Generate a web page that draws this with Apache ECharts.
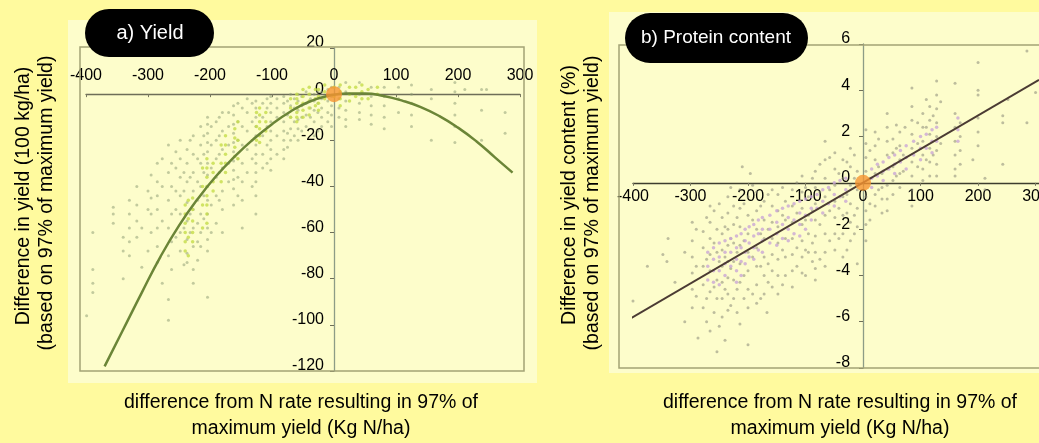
<!DOCTYPE html>
<html><head><meta charset="utf-8">
<script src="https://cdn.jsdelivr.net/npm/echarts@6/dist/echarts.min.js"></script>
<style>html,body{margin:0;padding:0;background:#FFFA9E;}#c{width:1039px;height:443px;}</style>
</head><body><div id="c"></div>
<script>
// ---------- Panel a) Yield ----------
const xTicksA = [-400, -300, -200, -100, 0, 100, 200, 300];
const yTicksA = [-120, -100, -80, -60, -40, -20, 0, 20];
// fitted response curve (x = kg N/ha difference, y = yield difference, 100 kg/ha)
const curveA = [[-370,-118],[-340,-102],[-310,-86],[-280,-70.5],[-250,-57],[-220,-45.5],[-190,-35.5],[-160,-27],[-130,-19.5],[-100,-13],[-70,-7.5],[-40,-3.3],[-10,-0.8],[20,0.3],[50,0.3],[80,-0.8],[110,-2.8],[140,-5.6],[170,-9.5],[200,-14.5],[230,-20.5],[260,-27.5],[288,-34]];
// observed points, grouped by N-rate column: [x, y1, y2, ...]
const obsColsA = [
 [-399,-96],[-389,-60,-76,-82,-86],[-356,-49,-52,-56],[-340,-62,-68,-80],[-330,-46,-52,-58,-64,-70],
 [-318,-40,-48,-55,-62],[-310,-58,-75],[-300,-42,-50,-68],[-295,-35,-45,-52,-60],[-285,-30,-38,-44,-50,-58,-66,-73],
 [-277,-28,-40,-55,-82],[-267,-22,-34,-46,-58,-70,-89,-98],[-262,-30,-40,-52,-64,-76],[-255,-25,-32,-42,-50,-62],
 [-248,-20,-28,-36,-44,-52,-60,-68],[-242,-34,-42,-58,-74],[-237,-24,-30,-38,-47,-55,-63,-69,-73],
 [-232,-20,-36,-52,-60],[-227,-18,-26,-34,-42,-50,-58,-66,-76,-82],[-220,-28,-38,-46,-56,-64,-72],
 [-215,-14,-22,-30,-40,-52,-60,-66],[-210,-18,-26,-34,-44,-54],
 [-204,-10,-13,-17,-21,-25,-30,-35,-40,-46,-52,-58,-63,-68,-88],[-198,-14,-22,-32,-48,-60],
 [-190,-12,-20,-28,-36,-44,-56],[-185,-10,-18,-26,-34,-46],[-180,-8,-16,-24,-32,-42,-50,-60],
 [-170,-8,-14,-22,-30,-38],[-162,-5,-9,-13,-17,-21,-25,-29,-33,-37,-41,-48],[-155,-4,-12,-20,-28,-36,-44],
 [-148,-6,-14,-22,-30,-38,-46,-58],[-140,-2,-8,-16,-24,-34],[-132,-4,-12,-20,-28,-40],
 [-126,-3,-6,-10,-14,-18,-22,-26,-30,-34,-38,-44,-52],[-115,-4,-10,-18,-26,-32],[-108,-2,-6,-14,-22,-30],
 [-102,-1,-4,-8,-12,-16,-20,-24,-28,-33],[-92,-2,-6,-10,-18,-26],[-81,-1,-4,-8,-12,-16,-20,-24,-28],
 [-75,-3,-9,-17,-23],[-70,0,-5,-10,-15,-20],[-64,-2,-6,-12,-18],[-58,0,-3,-7,-11,-15,-20],[-52,-1,-5,-10,-16],
 [-45,1,-4,-9,-14],[-38,0,-2,-6,-10],[-32,0,-3,-7,-12,-18],[-26,1,-4,-8,-16],
 [-20,1,-2,-6,-10,-14],[-10,2,-3,-8,-12],[-4,3,-1,-5,-9,-14],[8,3,-2,-6,-10],[19,5,1,-3,-7,-11,-14],[41,5,0,-4,-8,-11],
 [60,3,-1,-5,-9,-13],[81,3,-1,-5,-10,-15],[104,3,-2,-8],[125,4,0,-4,-9,-14],[157,2,-2,-20],
 [195,5,1,-4,-9,-14,-21],[211,2],[238,2,-7,-20],[246,2],[276,-8,-17]
];
const brightColsA = [
 [-240,-48,-52,-56,-60,-64,-68],[-235,-46,-54,-62,-70],[-228,-45,-50,-55,-60,-64],[-212,-32,-40,-48,-58],
 [-205,-28,-32,-36,-40,-44,-48,-52,-56],[-195,-30,-34,-38,-42],[-182,-22,-30,-38],[-175,-18,-22,-26,-30,-34],
 [-160,-15,-19,-23,-27],[-155,-12,-20,-28],[-125,-8,-14,-20],[-120,-6,-9,-12,-15,-18,-21],
 [-110,-8,-12,-16],[-70,-2,-6,-10],[-60,0,-2,-4,-6,-8,-10,-12],[-50,2,-1,-4,-7,-10],[-40,3,0,-3,-6,-9],
 [-30,2,-2,-5],[-25,2,-1,-4,-7],[-15,4,1,-2],[0,3,-1],[10,4,1,-2,-5],[25,3,0,-3],[35,3,-1],[45,4,1,-2],[55,2,-2],[70,3,0]
];

// ---------- Panel b) Protein content ----------
const xTicksB = [-400, -300, -200, -100, 0, 100, 200, 300];
const yTicksB = [-8, -6, -4, -2, 0, 2, 4, 6];
const lineB = [[-414,-6.0],[306,4.45]];
const obsColsB = [
 [-414,-4.6],[-400,-5.1],[-375,-3.6],[-348,-3.1],[-341,-3.4],[-339,-2.4],[-327,-4.3],[-310,-3.0,-6.0],
 [-297,-1.7,-2.5,-3.2,-3.9,-4.6,-5.4],[-290,-2.0,-3.6,-4.9],[-287,-6.7],[-278,-2.1,-2.8,-3.6,-4.4,-5.4],
 [-272,-1.5,-3.3,-5.0,-6.0],[-266,-1.0,-1.7,-2.4,-3.1,-3.8,-4.7,-6.4],[-259,-1.2,-2.6,-4.5,-5.6],
 [-254,-2.0,-3.0,-4.2,-5.0,-7.3],[-250,-0.9,-3.4,-6.2],
 [-245,-1.5,-2.2,-2.9,-3.6,-4.3,-5.0,-5.8],[-240,-1.9,-3.2,-4.6,-6.8],[-235,-0.6,-1.3,-2.0,-2.7,-3.4,-4.1,-4.8,-5.5],
 [-230,-0.2,-2.4,-3.7,-5.3],[-225,-1.0,-1.8,-2.6,-3.4,-4.2,-5.0],[-219,-1.5,-3.0,-4.6,-5.6],
 [-214,-0.3,-1.1,-1.9,-2.7,-3.5,-4.3,-6.1],[-210,0.7],[-207,-0.9,-2.5,-4.0,-5.0],
 [-200,-0.6,-1.4,-2.2,-3.0,-3.8,-4.6,-5.4,-7.0],[-196,0.4],[-192,-0.1,-1.6,-3.2,-4.8],
 [-185,-0.4,-1.2,-2.0,-2.8,-3.6,-4.4,-5.2],[-178,-1.0,-2.2,-3.6,-5.0],
 [-172,-0.8,-1.6,-2.4,-3.2,-4.0,-4.8],[-167,-5.6],[-165,-0.5,-2.0,-3.5,-4.3],[-158,-0.3,-1.0,-1.7,-2.4,-3.1,-3.8,-4.5],
 [-148,-0.5,-1.2,-1.9,-2.6,-3.3,-4.0,-4.8],[-140,-0.2,-1.4,-2.9,-4.4],[-135,-0.8,-1.6,-2.4,-3.2,-4.0],
 [-123,-0.3,-1.0,-1.7,-2.4,-3.1,-3.8,-4.5],[-115,0.0,-1.3,-2.8,-3.6],[-106,0.3,-0.4,-1.1,-1.8,-2.5,-3.2,-3.9],
 [-100,-0.2,-1.6,-2.9,-4.0],[-95,-0.6,-1.4,-2.2,-3.0],[-88,0.2,-1.2,-2.6,-3.4],[-83,0.5,-0.2,-0.9,-1.6,-2.3,-3.0,-3.7,-4.2],
 [-75,0.8,-0.4,-1.8,-3.3],[-66,1.8,1.0,0.2,-0.6,-1.4,-2.2,-3.0,-3.6],[-58,1.1,-0.3,-1.2,-2.5],
 [-49,1.3,0.6,-0.1,-0.8,-1.5,-2.2,-2.9],[-42,0.4,-1.1,-2.4],
 [-35,1.0,0.2,-0.6,-1.4,-2.2,-3.2],[-28,0.9,-0.5,-1.3,-2.9],[-22,1.5,0.7,-0.1,-0.9,-1.7,-2.5],[-15,1.2,0.2,-1.4,-2.2],
 [-10,0.5,-0.3,-1.1,-1.9,-3.5],
 [5,2.3,1.7,1.1,0.5,-0.6,-1.2,-1.8,-2.5],[12,1.4,0.2,-0.9,-1.6],[21,2.2,1.6,1.0,0.4,-0.5,-1.0],[27,1.9,0.7,-0.3],
 [33,0.4,-0.2,-0.7,-1.3],[42,3.0,2.4,1.8,1.2,0.6,-0.1,-0.7,-1.2],[52,1.9,1.3,0.7,0.1,-0.5],[58,2.5,1.5,0.3],
 [64,2.2,1.6,1.0,0.4,-0.2],[70,1.2,0.5],[73,2.4],
 [85,4.1,3.3,2.7,2.1,1.5,0.9,0.3,-0.3,-1.0],[95,2.6,1.7,0.7],[104,3.0,2.4,1.8,1.2,0.6,0.1],[110,3.6,2.4,1.0],
 [116,3.3,2.7,2.1,1.5,0.9,0.3],[122,2.9,1.2],
 [128,4.4,3.8,3.2,2.6,2.0,1.4,0.8,0.3],[135,3.5,1.7],[160,4.3,3.0,2.4,1.8,1.2,0.6,0.3],[169,2.6,2.0,1.4,0.8],
 [191,1.0],[200,5.2,4.0,3.8,2.8,2.2,1.6],[212,0.2,-0.3],[243,2.9,2.6,0.8],[252,3.6],[285,5.7,2.6],[300,3.9]
];
const brightColsB = [
 [-270,-3.0,-3.6,-4.2],[-260,-2.8,-3.3,-3.8,-4.3],[-250,-2.6,-3.2,-3.8,-4.4],[-240,-2.5,-3.0,-3.5,-4.0],
 [-230,-2.4,-3.0,-3.6],[-220,-2.3,-2.8,-3.3,-3.8,-4.3],[-212,-2.2,-2.8,-3.4,-4.0],
 [-205,-2.0,-2.5,-3.0,-3.5],[-198,-1.9,-2.6,-3.2],[-190,-1.8,-2.3,-2.8,-3.3],[-182,-1.6,-2.2,-2.9],
 [-175,-1.5,-2.0,-2.5,-3.0],[-162,-1.4,-2.0,-2.6],
 [-150,-1.2,-1.7,-2.2,-2.7],[-140,-1.1,-1.8,-2.4],[-130,-1.0,-1.5,-2.0,-2.5],[-120,-0.9,-1.6,-2.2],
 [-110,-0.8,-1.3,-1.8,-2.3],[-100,-0.7,-1.4,-2.0],
 [-90,-0.6,-1.1,-1.6],[-80,-0.5,-1.1],[-70,-0.3,-0.8,-1.3],[-60,-0.2,-0.9],[-50,0.0,-0.5,-1.0],[-40,0.1,-0.6],
 [-30,0.2,-0.3,-0.8],
 [15,0.6,0.2,-0.2],[25,0.8,0.3],[35,0.9,0.5,0.1],[45,1.1,0.6],[55,1.2,0.8,0.4],[65,1.4,0.9],[75,1.6,1.1,0.6],
 [88,1.8,1.2],[100,2.0,1.5,1.0],[110,2.1,1.5],[120,2.3,1.8,1.3],[128,2.4,1.8],[165,2.8,2.3,1.8]
];
const origin = [[0, 0]];

const flat = cols => { const out = []; cols.forEach(c => { for (let i = 1; i < c.length; i++) out.push([c[0], c[i]]); }); return out; };

const F = "'Liberation Sans', Arial, sans-serif";
const chart = echarts.init(document.getElementById('c'));

// grid geometry (layout only)
const GA = { left: 86, top: 48, width: 434, height: 323 };
const GB = { left: 633, top: 44, width: 406, height: 324 };
const xMaxA = 300, xMaxB = 306;
const zeroFrac = (min, max) => (0 - min) / (max - min);
const yZeroA = GA.height * (1 - zeroFrac(yTicksA[0], yTicksA[yTicksA.length - 1]));
const xZeroA = GA.width * zeroFrac(xTicksA[0], xMaxA);
const yZeroB = GB.height * zeroFrac(yTicksB[0], yTicksB[yTicksB.length - 1]);
const xZeroB = GB.width * zeroFrac(xTicksB[0], xMaxB);

function xAx(grid, ticks, max, position, offset, margin, lineColor) {
  return {
    gridIndex: grid, type: 'value', min: ticks[0], max: max, interval: 100,
    position: position, offset: offset,
    axisLine: { onZero: false, lineStyle: { color: lineColor, width: 1.3 } },
    axisTick: { show: true, inside: position === 'top', length: 3, lineStyle: { color: '#7a7a60' } },
    axisLabel: { margin: margin, color: '#000', fontSize: 16, fontFamily: F,
      formatter: v => (ticks.indexOf(v) >= 0 ? String(v) : '') },
    splitLine: { show: false }
  };
}
function yAx(grid, ticks, interval, offset, margin) {
  return {
    gridIndex: grid, type: 'value', min: ticks[0], max: ticks[ticks.length - 1], interval: interval,
    position: 'left', offset: offset,
    axisLine: { onZero: false, lineStyle: { color: '#8d9c86', width: 1.3 } },
    axisTick: { show: true, length: 4, lineStyle: { color: '#6e6e58' } },
    axisLabel: { margin: margin, color: '#000', fontSize: 16, fontFamily: F, verticalAlign: 'bottom', lineHeight: 10 },
    splitLine: { show: false }
  };
}

const T = (x, y, text, rot) => ({ type: 'text', x: x, y: y, rotation: rot || 0,
  style: { text: text, fill: '#000', fontSize: 19.5, fontFamily: F, align: 'center', verticalAlign: 'middle' } });

chart.setOption({
  backgroundColor: '#FFFA9E',
  animation: false,
  grid: [
    Object.assign({ outerBoundsMode: 'none', containLabel: false }, GA),
    Object.assign({ outerBoundsMode: 'none', containLabel: false }, GB)
  ],
  xAxis: [
    xAx(0, xTicksA, xMaxA, 'top', -yZeroA, 11, '#6e6e58'),
    xAx(1, xTicksB, xMaxB, 'bottom', -yZeroB, 6, '#3d3d2e')
  ],
  yAxis: [ yAx(0, yTicksA, 20, -xZeroA, 10), yAx(1, yTicksB, 2, -xZeroB, 13) ],
  graphic: [
    { type: 'rect', z: -1, shape: { x: 68, y: 20, width: 469, height: 363 }, style: { fill: '#FDFDCB' } },
    { type: 'rect', z: -1, shape: { x: 609, y: 12, width: 440, height: 361 }, style: { fill: '#FDFDCB' } },
    { type: 'rect', z: 1, shape: { x: 80, y: 47, width: 444, height: 324 }, style: { fill: null, stroke: '#a3a376', lineWidth: 1.5 } },
    { type: 'rect', z: 1, shape: { x: 619, y: 45, width: 440, height: 323 }, style: { fill: null, stroke: '#a3a376', lineWidth: 1.5 } },
    { type: 'rect', z: 100, shape: { x: 85, y: 9, width: 129, height: 48, r: 24 }, style: { fill: '#000' } },
    { type: 'text', z: 101, x: 150, y: 33, style: { text: 'a) Yield', fill: '#fff', fontSize: 20, fontFamily: F, align: 'center', verticalAlign: 'middle' } },
    { type: 'rect', z: 100, shape: { x: 625, y: 13, width: 183, height: 50, r: 25 }, style: { fill: '#000' } },
    { type: 'text', z: 101, x: 716, y: 38, style: { text: 'b) Protein content', fill: '#fff', fontSize: 19, fontFamily: F, align: 'center', verticalAlign: 'middle' } },
    T(24, 196, 'Difference in yield (100 kg/ha)', Math.PI / 2),
    T(47, 203, '(based on 97% of maximum yield)', Math.PI / 2),
    T(570, 195, 'Difference in yield content (%)', Math.PI / 2),
    T(593, 203, '(based on 97% of maximum yield)', Math.PI / 2),
    T(301, 403, 'difference from N rate resulting in 97% of'),
    T(301, 429, 'maximum yield (Kg N/ha)'),
    T(840, 403, 'difference from N rate resulting in 97% of'),
    T(840, 429, 'maximum yield (Kg N/ha)')
  ],
  series: [
    { type: 'scatter', xAxisIndex: 0, yAxisIndex: 0, data: flat(obsColsA), symbolSize: 3, itemStyle: { color: 'rgba(140,155,115,0.65)' }, z: 2 },
    { type: 'scatter', xAxisIndex: 0, yAxisIndex: 0, data: flat(brightColsA), symbolSize: 3.5, itemStyle: { color: '#c4dc48' }, z: 3 },
    { type: 'line', xAxisIndex: 0, yAxisIndex: 0, data: curveA, smooth: true, showSymbol: false, lineStyle: { color: '#6b8537', width: 2.5 }, z: 4 },
    { type: 'scatter', xAxisIndex: 0, yAxisIndex: 0, data: origin, symbolSize: 16, itemStyle: { color: '#F59331' }, z: 5 },
    { type: 'scatter', xAxisIndex: 1, yAxisIndex: 1, data: flat(obsColsB), symbolSize: 3, itemStyle: { color: 'rgba(130,130,115,0.65)' }, z: 2 },
    { type: 'scatter', xAxisIndex: 1, yAxisIndex: 1, data: flat(brightColsB), symbolSize: 3.5, itemStyle: { color: '#c9a6d6' }, z: 3 },
    { type: 'line', xAxisIndex: 1, yAxisIndex: 1, data: lineB, showSymbol: false, lineStyle: { color: '#4b3b33', width: 2 }, z: 4 },
    { type: 'scatter', xAxisIndex: 1, yAxisIndex: 1, data: origin, symbolSize: 16, itemStyle: { color: '#F59331' }, z: 5 }
  ]
});
</script>
</body></html>
